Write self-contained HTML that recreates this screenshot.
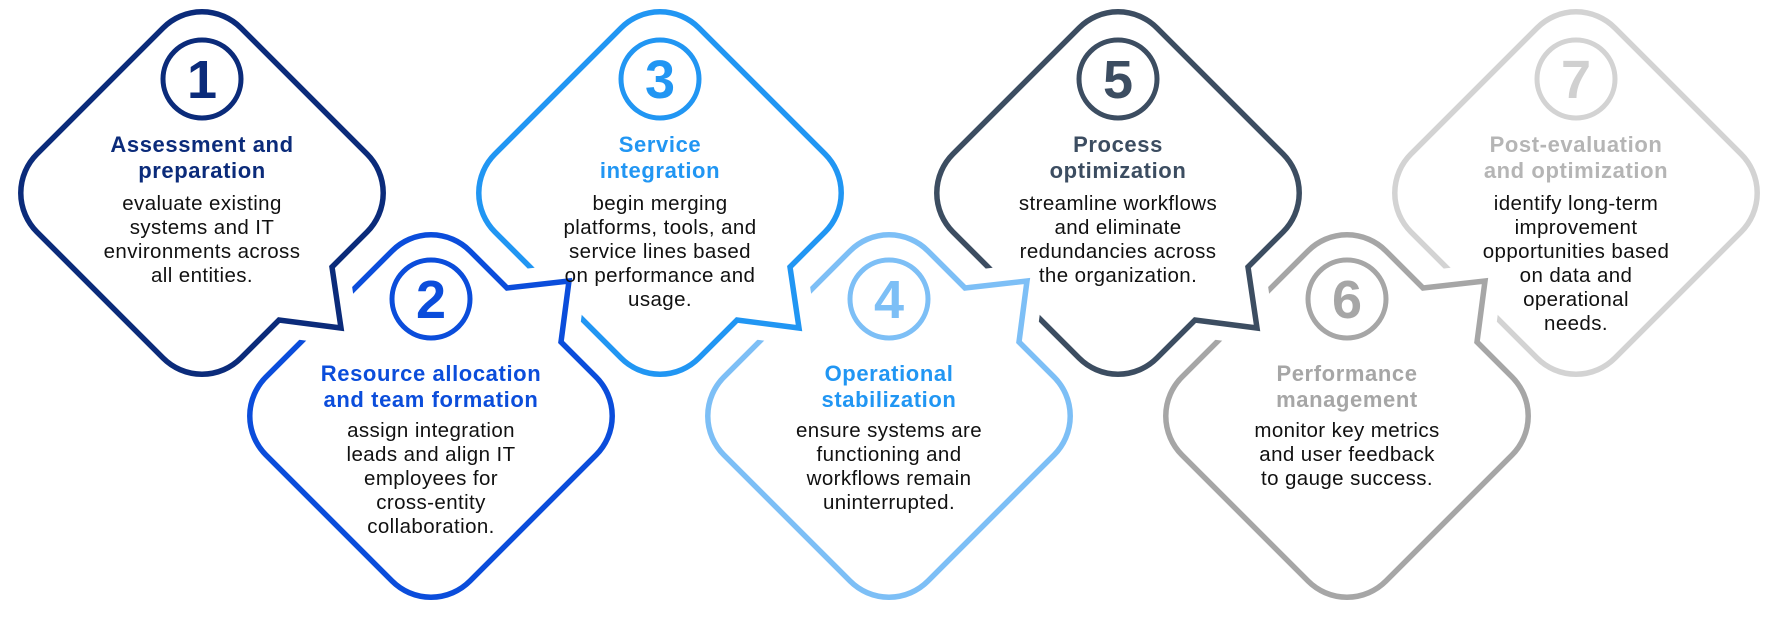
<!DOCTYPE html>
<html><head><meta charset="utf-8"><style>
html,body{margin:0;padding:0;background:#fff;width:1780px;height:636px;overflow:hidden}
svg{display:block}
.t{font-family:"Liberation Sans",sans-serif;font-weight:bold;font-size:22px;text-anchor:middle;letter-spacing:0.6px}
.b{font-family:"Liberation Sans",sans-serif;font-size:20.5px;text-anchor:middle;fill:#111;letter-spacing:0.4px}
.n{font-family:"Liberation Sans",sans-serif;font-weight:bold;font-size:54px;text-anchor:middle}
</style></head><body>
<svg width="1780" height="636" viewBox="0 0 1780 636" xmlns="http://www.w3.org/2000/svg">
<defs>
<path id="odd" d="M38.9,-165.1 L165.1,-38.9 A55,55 0 0 1 165.1,38.9 L130,74 L139,135 L77,127 L38.9,165.1 A55,55 0 0 1 -38.9,165.1 L-165.1,38.9 A55,55 0 0 1 -165.1,-38.9 L-38.9,-165.1 A55,55 0 0 1 38.9,-165.1 Z"/>
<path id="even" d="M38.9,-165.1 L76,-128 L138,-135 L130,-74 L165.1,-38.9 A55,55 0 0 1 165.1,38.9 L38.9,165.1 A55,55 0 0 1 -38.9,165.1 L-165.1,38.9 A55,55 0 0 1 -165.1,-38.9 L-38.9,-165.1 A55,55 0 0 1 38.9,-165.1 Z"/>
<path id="plain" d="M38.9,-165.1 L165.1,-38.9 A55,55 0 0 1 165.1,38.9 L38.9,165.1 A55,55 0 0 1 -38.9,165.1 L-165.1,38.9 A55,55 0 0 1 -165.1,-38.9 L-38.9,-165.1 A55,55 0 0 1 38.9,-165.1 Z"/>
</defs>
<g stroke-linejoin="miter">
<g transform="translate(1576,193)"><use href="#plain" fill="#fff" stroke="#fff" stroke-width="34"/><use href="#plain" fill="#fff" stroke="#d3d3d3" stroke-width="5.5"/></g>
<g transform="translate(1347,416)"><use href="#even" fill="#fff" stroke="#fff" stroke-width="34"/><use href="#even" fill="#fff" stroke="#a6a6a6" stroke-width="5.5"/></g>
<g transform="translate(1118,193)"><use href="#odd" fill="#fff" stroke="#fff" stroke-width="34"/><use href="#odd" fill="#fff" stroke="#3c4d61" stroke-width="5.5"/></g>
<g transform="translate(889,416)"><use href="#even" fill="#fff" stroke="#fff" stroke-width="34"/><use href="#even" fill="#fff" stroke="#7dbff6" stroke-width="5.5"/></g>
<g transform="translate(660,193)"><use href="#odd" fill="#fff" stroke="#fff" stroke-width="34"/><use href="#odd" fill="#fff" stroke="#2196f3" stroke-width="5.5"/></g>
<g transform="translate(431,416)"><use href="#even" fill="#fff" stroke="#fff" stroke-width="34"/><use href="#even" fill="#fff" stroke="#0b4ddb" stroke-width="5.5"/></g>
<g transform="translate(202,193)"><use href="#odd" fill="#fff" stroke="#fff" stroke-width="34"/><use href="#odd" fill="#fff" stroke="#0b2b7a" stroke-width="5.5"/></g>
</g>

<g transform="translate(202,193)">
<circle cx="0" cy="-114" r="39" fill="none" stroke="#0b2b7a" stroke-width="5"/>
<text class="n" x="0" y="-95" fill="#0b2b7a">1</text>
<text class="t" x="0" y="-41" fill="#0b2b7a">Assessment and</text>
<text class="t" x="0" y="-15" fill="#0b2b7a">preparation</text>
<text class="b" x="0" y="17">evaluate existing</text>
<text class="b" x="0" y="41">systems and IT</text>
<text class="b" x="0" y="65">environments across</text>
<text class="b" x="0" y="89">all entities.</text>
</g>
<g transform="translate(431,416)">
<circle cx="0" cy="-117" r="39" fill="none" stroke="#0b4ddb" stroke-width="5"/>
<text class="n" x="0" y="-98" fill="#0b4ddb">2</text>
<text class="t" x="0" y="-35" fill="#0b4ddb">Resource allocation</text>
<text class="t" x="0" y="-9" fill="#0b4ddb">and team formation</text>
<text class="b" x="0" y="21">assign integration</text>
<text class="b" x="0" y="45">leads and align IT</text>
<text class="b" x="0" y="69">employees for</text>
<text class="b" x="0" y="93">cross-entity</text>
<text class="b" x="0" y="117">collaboration.</text>
</g>
<g transform="translate(660,193)">
<circle cx="0" cy="-114" r="39" fill="none" stroke="#2196f3" stroke-width="5"/>
<text class="n" x="0" y="-95" fill="#2196f3">3</text>
<text class="t" x="0" y="-41" fill="#2196f3">Service</text>
<text class="t" x="0" y="-15" fill="#2196f3">integration</text>
<text class="b" x="0" y="17">begin merging</text>
<text class="b" x="0" y="41">platforms, tools, and</text>
<text class="b" x="0" y="65">service lines based</text>
<text class="b" x="0" y="89">on performance and</text>
<text class="b" x="0" y="113">usage.</text>
</g>
<g transform="translate(889,416)">
<circle cx="0" cy="-117" r="39" fill="none" stroke="#7dbff6" stroke-width="5"/>
<text class="n" x="0" y="-98" fill="#7dbff6">4</text>
<text class="t" x="0" y="-35" fill="#2196f3">Operational</text>
<text class="t" x="0" y="-9" fill="#2196f3">stabilization</text>
<text class="b" x="0" y="21">ensure systems are</text>
<text class="b" x="0" y="45">functioning and</text>
<text class="b" x="0" y="69">workflows remain</text>
<text class="b" x="0" y="93">uninterrupted.</text>
</g>
<g transform="translate(1118,193)">
<circle cx="0" cy="-114" r="39" fill="none" stroke="#3c4d61" stroke-width="5"/>
<text class="n" x="0" y="-95" fill="#3c4d61">5</text>
<text class="t" x="0" y="-41" fill="#3c4d61">Process</text>
<text class="t" x="0" y="-15" fill="#3c4d61">optimization</text>
<text class="b" x="0" y="17">streamline workflows</text>
<text class="b" x="0" y="41">and eliminate</text>
<text class="b" x="0" y="65">redundancies across</text>
<text class="b" x="0" y="89">the organization.</text>
</g>
<g transform="translate(1347,416)">
<circle cx="0" cy="-117" r="39" fill="none" stroke="#a6a6a6" stroke-width="5"/>
<text class="n" x="0" y="-98" fill="#a6a6a6">6</text>
<text class="t" x="0" y="-35" fill="#a6a6a6">Performance</text>
<text class="t" x="0" y="-9" fill="#a6a6a6">management</text>
<text class="b" x="0" y="21">monitor key metrics</text>
<text class="b" x="0" y="45">and user feedback</text>
<text class="b" x="0" y="69">to gauge success.</text>
</g>
<g transform="translate(1576,193)">
<circle cx="0" cy="-114" r="39" fill="none" stroke="#d3d3d3" stroke-width="5"/>
<text class="n" x="0" y="-95" fill="#d0d0d0">7</text>
<text class="t" x="0" y="-41" fill="#b5b5b5">Post-evaluation</text>
<text class="t" x="0" y="-15" fill="#b5b5b5">and optimization</text>
<text class="b" x="0" y="17">identify long-term</text>
<text class="b" x="0" y="41">improvement</text>
<text class="b" x="0" y="65">opportunities based</text>
<text class="b" x="0" y="89">on data and</text>
<text class="b" x="0" y="113">operational</text>
<text class="b" x="0" y="137">needs.</text>
</g>
</svg>
</body></html>
